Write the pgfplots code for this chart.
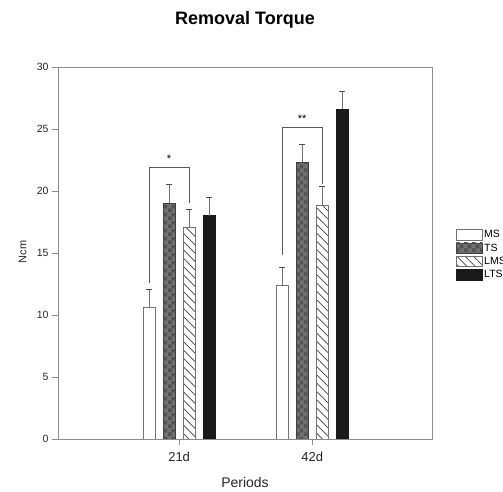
\documentclass[border=0pt]{standalone}
\usepackage{fontspec}
\setmainfont{Liberation Sans}
\usepackage{pgfplots}
\pgfplotsset{compat=1.18}
\usetikzlibrary{patterns,patterns.meta}
\definecolor{frameGrey}{HTML}{8C8C8C}
\definecolor{barBlack}{HTML}{1A1A1A}

% coarse low-contrast checker for TS
\pgfdeclarepatternformonly{bigchecker}{\pgfqpoint{0pt}{0pt}}{\pgfqpoint{8pt}{8pt}}{\pgfqpoint{8pt}{8pt}}{
  \pgfpathrectangle{\pgfqpoint{0pt}{0pt}}{\pgfqpoint{4pt}{4pt}}
  \pgfpathrectangle{\pgfqpoint{4pt}{4pt}}{\pgfqpoint{4pt}{4pt}}
  \pgfusepath{fill}
}

\pgfplotsset{
  errstyle/.style={
    error bars/y dir=plus, error bars/y explicit,
    error bars/error bar style={black!55, line width=0.8pt},
    error bars/error mark options={rotate=90, mark size=3pt, black!70, line width=0.8pt},
  },
}

\begin{document}
\begin{tikzpicture}
\useasboundingbox (0,0) rectangle (503pt,492pt);
\begin{axis}[
  at={(58pt,53pt)}, anchor=south west,
  scale only axis, width=374pt, height=372pt,
  ymin=0, ymax=30, ytick={0,5,...,30},
  xmin=-0.91, xmax=1.90,
  xtick={0,1}, xticklabels={21d,42d},
  ybar=8pt, bar width=12pt,
  tick align=outside, xtick pos=bottom, ytick pos=left,
  major tick length=6pt,
  tick style={frameGrey, line width=0.6pt},
  axis line style={frameGrey, line width=0.8pt},
  /pgf/number format/assume math mode=true,
  xticklabel style={font=\fontsize{13}{14}\selectfont, text=black!85, yshift=-4pt},
  yticklabel style={font=\fontsize{10.5}{12}\selectfont, text=black!85},
  legend style={at={(1.064,0.565)}, anchor=north west, draw=none, fill=none,
    inner sep=0pt, row sep=1.4pt, font=\fontsize{10.5}{11}\selectfont,
    nodes={inner sep=1.5pt}},
  legend cell align=left,
  legend image code/.code={\draw[#1] (0pt,-5.2pt) rectangle (26pt,5.2pt);},
]
% MS
\addplot[draw=black!55, fill=white, line width=0.6pt, errstyle]
  coordinates {(0,10.6) +- (0,1.5) (1,12.4) +- (0,1.45)};
% TS
\addplot[draw=black!75, fill=black!56, line width=0.6pt, errstyle,
  postaction={pattern=bigchecker, pattern color=black!68}]
  coordinates {(0,19.0) +- (0,1.5) (1,22.3) +- (0,1.45)};
% LMS
\addplot[draw=black!55, fill=white, line width=0.6pt, errstyle,
  postaction={pattern={Lines[angle=-45,distance=5.9pt,line width=0.7pt]}, pattern color=black!75}]
  coordinates {(0,17.05) +- (0,1.45) (1,18.85) +- (0,1.5)};
% LTS
\addplot[draw=barBlack, fill=barBlack, line width=0.6pt, errstyle]
  coordinates {(0,18.0) +- (0,1.45) (1,26.6) +- (0,1.45)};
\legend{MS,TS,LMS,LTS}
% significance brackets
\draw[black!65, line width=0.8pt]
  (axis cs:-0.2256,12.6) -- (axis cs:-0.2256,21.9) -- (axis cs:0.0752,21.9) -- (axis cs:0.0752,19.0);
\node[font=\fontsize{11}{12}\selectfont] at (axis cs:-0.075,22.6) {*};
\draw[black!65, line width=0.8pt]
  (axis cs:0.7744,14.8) -- (axis cs:0.7744,25.1) -- (axis cs:1.0752,25.1) -- (axis cs:1.0752,20.6);
\node[font=\fontsize{11}{12}\selectfont] at (axis cs:0.925,25.8) {**};
\end{axis}
\node[font=\fontsize{18}{20}\selectfont\bfseries] at (245pt,472pt) {Removal Torque};
\node[font=\fontsize{14}{16}\selectfont, text=black!85] at (245pt,10pt) {Periods};
\node[font=\fontsize{11}{12}\selectfont, text=black!85, rotate=90] at (22.7pt,240pt) {Ncm};
\end{tikzpicture}
\end{document}
